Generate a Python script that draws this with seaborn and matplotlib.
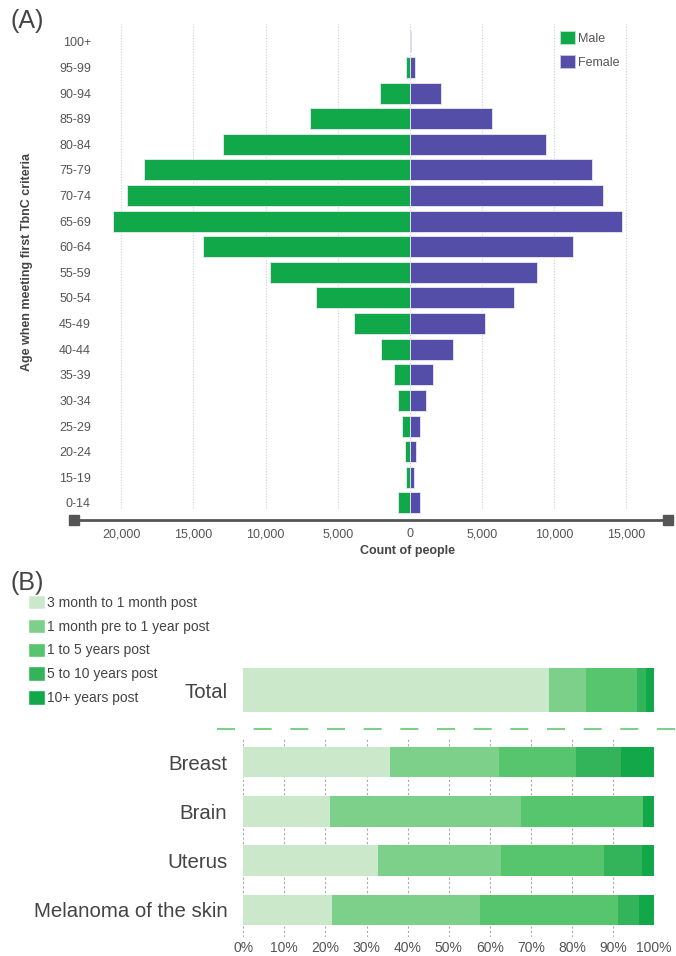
import matplotlib
matplotlib.use("Agg")
import matplotlib.pyplot as plt
from matplotlib.patches import Patch
from matplotlib.lines import Line2D
import numpy as np
import pandas as pd
import seaborn as sns

# ---------------- data ----------------
age_groups = ["100+", "95-99", "90-94", "85-89", "80-84", "75-79", "70-74", "65-69",
              "60-64", "55-59", "50-54", "45-49", "40-44", "35-39", "30-34", "25-29",
              "20-24", "15-19", "0-14"]
male_counts = [0, 250, 2080, 6890, 12930, 18420, 19600, 20550, 14350, 9670, 6500,
               3840, 1990, 1090, 790, 530, 370, 280, 810]
female_counts = [60, 320, 2190, 5690, 9430, 12620, 13380, 14700, 11300, 8830, 7250,
                 5220, 2960, 1590, 1130, 715, 415, 280, 670]

periods = ["3 month to 1 month post", "1 month pre to 1 year post",
           "1 to 5 years post", "5 to 10 years post", "10+ years post"]
total_pct = [74.5, 8.9, 12.5, 2.2, 1.9]
cancer_sites = ["Breast", "Brain", "Uterus", "Melanoma of the skin"]
breast_pct = [35.7, 26.6, 18.6, 11.0, 8.1]
brain_pct = [21.1, 46.4, 29.8, 0.0, 2.7]
uterus_pct = [32.9, 29.8, 25.1, 9.2, 3.0]
melanoma_pct = [21.5, 36.1, 33.7, 5.1, 3.6]

# ---------------- style ----------------
sns.set_theme(style="white")
plt.rcParams["font.family"] = ["Liberation Sans", "DejaVu Sans"]

MALE = "#11a84a"
FEMALE = "#554ea8"
period_colors = ["#cbe8cb", "#7dd08a", "#57c46e", "#33b45a", "#12a84a"]
TXT = "#444444"
TICK = "#555555"

W, H = 676, 956
fig = plt.figure(figsize=(W / 100, H / 100), dpi=100)


def px_axes(left, top, right, bottom):
    return fig.add_axes([left / W, 1 - bottom / H, (right - left) / W, (bottom - top) / H])


# ---------------- (A) population pyramid ----------------
axA = px_axes(74, 24, 668, 520)
pyr = pd.DataFrame({
    "age": age_groups * 2,
    "sex": ["Male"] * len(age_groups) + ["Female"] * len(age_groups),
    "count": [-v for v in male_counts] + list(female_counts),
})
sns.barplot(data=pyr, y="age", x="count", hue="sex", order=age_groups,
            palette={"Male": MALE, "Female": FEMALE}, dodge=False, width=0.82,
            orient="h", ax=axA, legend=False, edgecolor="#e8e8f4", linewidth=0.6,
            saturation=1, zorder=3)
axA.set_xlim(-23280, 17890)
axA.set_ylim(18.67, -0.70)

xt = np.arange(-20000, 15001, 5000)
axA.vlines(xt, 0.025, 1, transform=axA.get_xaxis_transform(), colors="#cfcfcf",
           linestyles=(0, (1, 1.5)), linewidth=0.8, zorder=1)
axA.set_xticks(xt)
axA.set_xticklabels([f"{abs(v):,}" for v in xt])
axA.tick_params(axis="x", length=0, pad=6, labelsize=9, labelcolor=TICK)
axA.tick_params(axis="y", length=0, pad=-12.2, labelsize=9, labelcolor=TICK)
for lab in axA.get_yticklabels():
    lab.set_horizontalalignment("right")
axA.set_xlabel("")
axA.set_ylabel("")
for s in ["top", "right", "left"]:
    axA.spines[s].set_visible(False)
axA.spines["bottom"].set_color(TICK)
axA.spines["bottom"].set_linewidth(2.0)
axA.plot([0, 1], [0, 0], transform=axA.transAxes, ls="none", marker="s", ms=6.5,
         color=TICK, clip_on=False, zorder=5)

axA.legend(handles=[Patch(facecolor=MALE, edgecolor="#bfe6c9", lw=0.6, label="Male"),
                    Patch(facecolor=FEMALE, edgecolor="#c9c6ea", lw=0.6, label="Female")],
           loc="upper left", bbox_to_anchor=(560 / W, 1 - 31 / H),
           bbox_transform=fig.transFigure, frameon=False, fontsize=9,
           handlelength=1.2, handleheight=1.2, handletextpad=0.25, labelspacing=0.86,
           borderpad=0, borderaxespad=0, labelcolor=TICK)

fig.text(10 / W, 1 - 21 / H, "(A)", fontsize=18, color=TXT, ha="left", va="center")
fig.text(27 / W, 1 - 262 / H, "Age when meeting first TbnC criteria", rotation=90,
         fontsize=9, fontweight="bold", color=TXT, ha="center", va="center")
fig.text(408 / W, 1 - 551 / H, "Count of people", fontsize=9, fontweight="bold",
         color=TXT, ha="center", va="center")

# ---------------- (B) stacked percentage bars ----------------
fig.text(10 / W, 1 - 583 / H, "(B)", fontsize=18, color=TXT, ha="left", va="center")


def stacked(ax, groups, rows, bar_width):
    df = pd.DataFrame([(g, p, v) for g, vals in zip(groups, rows)
                       for p, v in zip(periods, vals)],
                      columns=["group", "period", "pct"])
    df["right"] = df.groupby("group", sort=False)["pct"].cumsum()
    for p, c in reversed(list(zip(periods, period_colors))):
        sub = df[df["period"] == p]
        sns.barplot(data=sub, x="right", y="group", order=groups, color=c,
                    width=bar_width, orient="h", ax=ax, linewidth=0,
                    saturation=1, zorder=3)
    ax.set_xlim(0, 100)
    ax.set_xlabel("")
    ax.set_ylabel("")
    for s in ax.spines.values():
        s.set_visible(False)
    ax.tick_params(axis="y", length=0, pad=11.5, labelsize=14.7, labelcolor=TXT)


axT = px_axes(243.3, 660, 654, 720)
stacked(axT, ["Total"], [total_pct], 0.733)
axT.set_ylim(0.5, -0.5)
axT.set_xticks([])

axC = px_axes(243.3, 738, 654, 937)
stacked(axC, cancer_sites, [breast_pct, brain_pct, uterus_pct, melanoma_pct], 0.62)
axC.set_ylim(3.55, -0.49)
xt2 = np.arange(0, 101, 10)
axC.set_xticks(xt2)
axC.set_xticklabels([f"{v}%" for v in xt2])
axC.tick_params(axis="x", length=0, pad=3, labelsize=10, labelcolor=TICK)
axC.grid(axis="x", color="#aaaaaa", linestyle=(0, (2, 2)), linewidth=0.8)
axC.set_axisbelow(True)

# separator between the overall bar and the per-site bars
fig.add_artist(Line2D([216.7 / W, 676 / W], [1 - 729 / H, 1 - 729 / H],
                      transform=fig.transFigure, color="#7dd08a", lw=1.5,
                      dashes=(8.64, 8.96)))

fig.legend(handles=[Patch(facecolor=c, label=p) for p, c in zip(periods, period_colors)],
           loc="upper left", bbox_to_anchor=(28 / W, 1 - 595 / H), frameon=False,
           fontsize=10, handlelength=1.22, handleheight=1.22, handletextpad=0.12,
           labelspacing=0.64, borderpad=0, borderaxespad=0, labelcolor=TXT)

fig.savefig("out.png", dpi=100, facecolor="white")
